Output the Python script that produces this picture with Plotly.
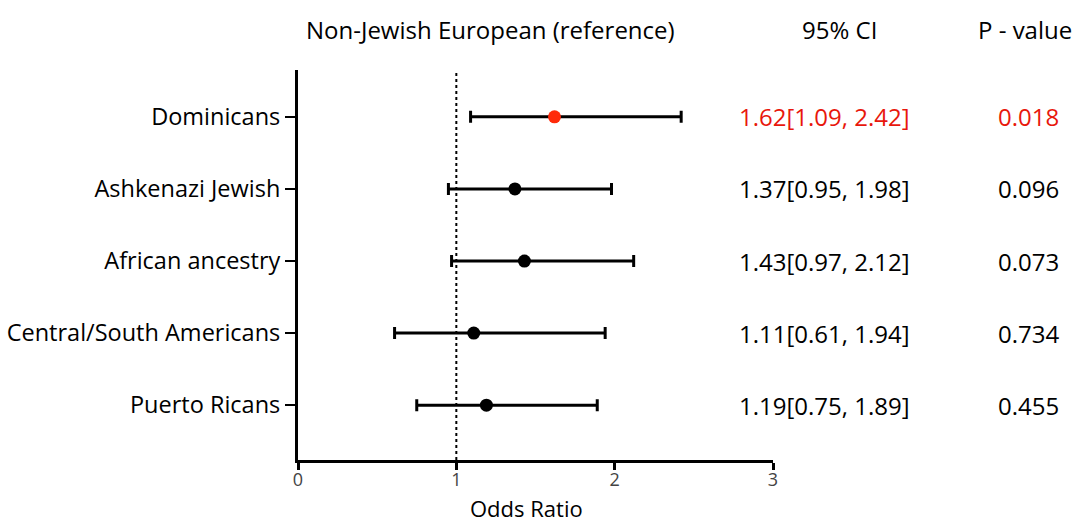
import plotly.graph_objects as go

groups = ["Dominicans", "Ashkenazi Jewish", "African ancestry", "Central/South Americans", "Puerto Ricans"]
odds = [1.62, 1.37, 1.43, 1.11, 1.19]
lower = [1.09, 0.95, 0.97, 0.61, 0.75]
upper = [2.42, 1.98, 2.12, 1.94, 1.89]
pvals = ["0.018", "0.096", "0.073", "0.734", "0.455"]
highlight = [True, False, False, False, False]

ypos = list(range(len(groups), 0, -1))
FONT = "Open Sans"
FS = 24
fig = go.Figure()
for i, g in enumerate(groups):
    col = "#ff2a0a" if highlight[i] else "black"
    fig.add_trace(go.Scatter(
        x=[odds[i]], y=[ypos[i]], mode="markers",
        marker=dict(color=col, size=13),
        error_x=dict(type="data", symmetric=False,
                     array=[upper[i] - odds[i]], arrayminus=[odds[i] - lower[i]],
                     color="black", thickness=3, width=6),
        showlegend=False, hoverinfo="skip"))
    txtcol = "#e8170c" if highlight[i] else "black"
    fig.add_annotation(x=1.109, xref="paper", y=ypos[i], yref="y",
                       text=f"{odds[i]:.2f}[{lower[i]:.2f}, {upper[i]:.2f}]",
                       showarrow=False, font=dict(family=FONT, size=FS, color=txtcol),
                       xanchor="center", yanchor="middle")
    fig.add_annotation(x=1.537, xref="paper", y=ypos[i], yref="y",
                       text=pvals[i], showarrow=False,
                       font=dict(family=FONT, size=FS, color=txtcol),
                       xanchor="center", yanchor="middle")

fig.add_shape(type="line", x0=1, x1=1, xref="x", y0=0, y1=1, yref="paper",
              line=dict(color="black", width=2, dash="dot"))

headers = [("Non-Jewish European (reference)", 0.405), ("95% CI", 1.141), ("P - value", 1.530)]
for t, xp in headers:
    fig.add_annotation(x=xp, xref="paper", y=1.105, yref="paper", text=t,
                       showarrow=False, font=dict(family=FONT, size=FS, color="black"),
                       xanchor="center", yanchor="middle")

fig.add_annotation(x=0.482, xref="paper", y=-0.122, yref="paper", text="Odds Ratio",
                   showarrow=False, font=dict(family=FONT, size=22, color="black"),
                   xanchor="center", yanchor="middle")

fig.update_layout(
    width=1075, height=523,
    margin=dict(l=298, r=302, t=70, b=63, autoexpand=False),
    paper_bgcolor="white", plot_bgcolor="white",
    font=dict(family=FONT, size=FS, color="black"),
    xaxis=dict(range=[0, 3], tickvals=[0, 1, 2, 3], showgrid=False, zeroline=False,
               showline=True, linecolor="black", linewidth=3, automargin=False,
               ticks="outside", ticklen=7, tickwidth=3, tickcolor="black",
               ticklabelstandoff=-6,
               tickfont=dict(family=FONT, size=18, color="#444")),
    yaxis=dict(range=[0.24, 5.65], tickvals=ypos, ticktext=groups, showgrid=False,
               zeroline=False, showline=True, linecolor="black", linewidth=3,
               automargin=False,
               ticks="outside", ticklen=10, tickwidth=2, tickcolor="black",
               tickfont=dict(family=FONT, size=23.5, color="black")),
)
fig.write_html("out.html", config={"displayModeBar": False},
               post_script="document.body.style.margin='0';")
